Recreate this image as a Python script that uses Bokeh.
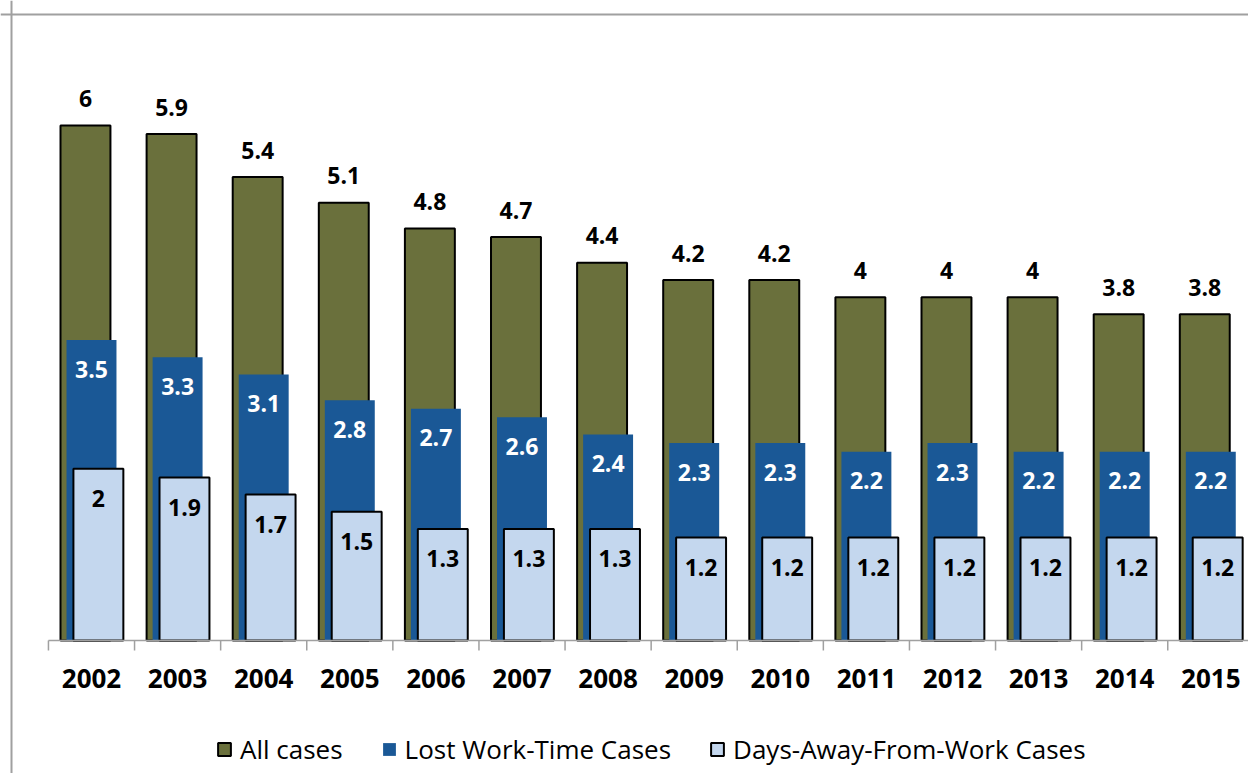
import math
from bokeh.plotting import figure
from bokeh.models import Range1d, Span, Legend, LegendItem, ColumnDataSource
from bokeh.transform import dodge
from bokeh.core.properties import value
from bokeh.embed import file_html
from bokeh.resources import INLINE

# ---------------- data ----------------
years = ["2002", "2003", "2004", "2005", "2006", "2007", "2008",
         "2009", "2010", "2011", "2012", "2013", "2014", "2015"]
all_cases = [6, 5.9, 5.4, 5.1, 4.8, 4.7, 4.4, 4.2, 4.2, 4, 4, 4, 3.8, 3.8]
lost_work = [3.5, 3.3, 3.1, 2.8, 2.7, 2.6, 2.4, 2.3, 2.3, 2.2, 2.3, 2.2, 2.2, 2.2]
days_away = [2, 1.9, 1.7, 1.5, 1.3, 1.3, 1.3, 1.2, 1.2, 1.2, 1.2, 1.2, 1.2, 1.2]
series_names = ["All cases", "Lost Work-Time Cases", "Days-Away-From-Work Cases"]

# ---------------- style ----------------
OLIVE = "#6A703C"
BLUE = "#1A5896"
LIGHT = "#C4D7EE"
GRAY = "#A0A0A0"
FONT = "Open Sans"

W, H = 1248, 773
PAGE_OFF = 0
# page-pixel geometry of the reference
X0_PX, X_UNIT = 91.0, 86.1      # centre of first category, px per category
Y0_PX, Y_UNIT = 640.0, 85.83    # baseline, px per unit value


def xd(page_px):
    return (page_px - X0_PX) / X_UNIT


def yd(page_px):
    return (Y0_PX - page_px) / Y_UNIT


x_start, x_end = xd(PAGE_OFF), xd(PAGE_OFF + W)
y_start, y_end = yd(PAGE_OFF + H), yd(PAGE_OFF)

p = figure(width=W, height=H, output_backend="svg", toolbar_location=None,
           x_range=Range1d(x_start, x_end), y_range=Range1d(y_start, y_end),
           x_axis_location=None, y_axis_location=None,
           min_border_left=0, min_border_right=0,
           min_border_top=0, min_border_bottom=0,
           outline_line_color=None, background_fill_color="white",
           border_fill_color="white")
p.grid.grid_line_color = None

src = ColumnDataSource(dict(
    x=list(range(len(years))), year=years,
    all=all_cases, lost=lost_work, days=days_away,
    all_lbl=[f"{v:g}" for v in all_cases],
    lost_lbl=[f"{v:g}" for v in lost_work],
    days_lbl=[f"{v:g}" for v in days_away],
))

BW = 0.58
OFF_G, OFF_L = -0.07, 0.08

g = p.vbar(x=dodge("x", OFF_G, range=p.x_range), top="all", bottom=0, width=BW,
           source=src, fill_color=OLIVE, line_color="black", line_width=2)
b = p.vbar(x="x", top="lost", bottom=0, width=BW, source=src,
           fill_color=BLUE, line_color=None)
l = p.vbar(x=dodge("x", OFF_L, range=p.x_range), top="days", bottom=0, width=BW,
           source=src, fill_color=LIGHT, line_color="black", line_width=2)

# axis line and category-boundary ticks
n = len(years)
p.segment(x0=-0.5, y0=0, x1=n - 0.5, y1=0, line_color=GRAY, line_width=1.5)
p.ray(x=[i - 0.5 for i in range(n + 1)], y=0, length=10, length_units="screen",
      angle=-math.pi / 2, line_color=GRAY, line_width=1.5)

# year labels
p.text(x="x", y=0, text="year", source=src, y_offset=38,
       text_align="center", text_baseline="middle",
       text_font=value(FONT), text_font_style="bold", text_font_size="26px",
       text_color="black")

# value labels
p.text(x=dodge("x", OFF_G, range=p.x_range), y="all", text="all_lbl", source=src,
       y_offset=-27, text_align="center", text_baseline="middle",
       text_font=value(FONT), text_font_style="bold", text_font_size="23px",
       text_color="black")
p.text(x="x", y="lost", text="lost_lbl", source=src,
       y_offset=29, text_align="center", text_baseline="middle",
       text_font=value(FONT), text_font_style="bold", text_font_size="23px",
       text_color="white")
p.text(x=dodge("x", OFF_L, range=p.x_range), y="days", text="days_lbl", source=src,
       y_offset=30, text_align="center", text_baseline="middle",
       text_font=value(FONT), text_font_style="bold", text_font_size="23px",
       text_color="black")

# chart border (top & left visible)
p.add_layout(Span(location=xd(11), dimension="height", line_color=GRAY, line_width=2))
p.add_layout(Span(location=yd(14), dimension="width", line_color=GRAY, line_width=2))

legend = Legend(items=[LegendItem(label=series_names[0], renderers=[g]),
                       LegendItem(label=series_names[1], renderers=[b]),
                       LegendItem(label=series_names[2], renderers=[l])],
                orientation="horizontal", location=(216, 6),
                padding=0, margin=0, spacing=38, label_standoff=8,
                glyph_width=16, glyph_height=16,
                label_text_font=FONT, label_text_font_size="26px",
                label_text_color="black",
                border_line_color=None, background_fill_alpha=0)
p.add_layout(legend)

open("out.html", "w").write(file_html(p, INLINE))
